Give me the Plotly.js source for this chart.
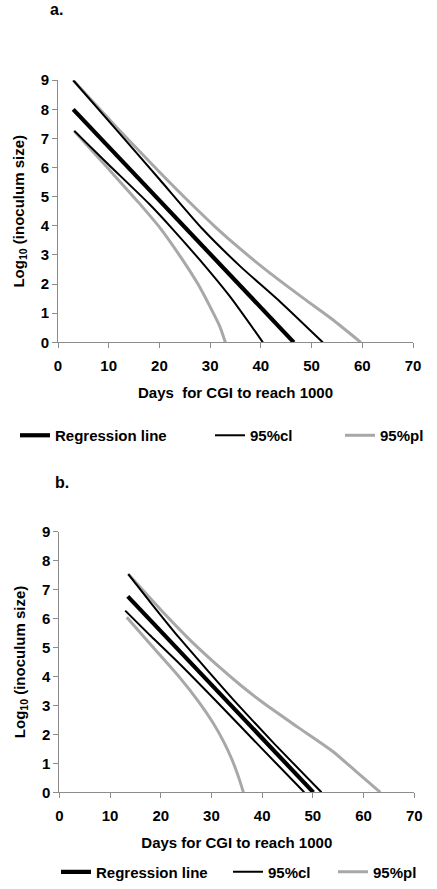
<!DOCTYPE html>
<html><head><meta charset="utf-8">
<script src="https://cdn.plot.ly/plotly-3.0.1.min.js"></script>
<style>html,body{margin:0;padding:0;background:#fff}#chart{width:437px;height:889px}</style>
</head><body><div id="chart"></div>
<script>
const seriesNames = ['Regression line', '95%cl', '95%pl'];
const xTicks = [0, 10, 20, 30, 40, 50, 60, 70];
const yTicks = [0, 1, 2, 3, 4, 5, 6, 7, 8, 9];
const xTitleA = 'Days  for CGI to reach 1000';
const xTitleB = 'Days for CGI to reach 1000';
const yTitle = 'Log<sub>10</sub> (inoculum size)';

// Panel a
const aRegX = [3, 46.5];
const aRegY = [8, 0];
const aUclX = [3, 12, 20, 28.5, 36, 44, 52.2];
const aUclY = [9, 7.2, 5.6, 3.89, 2.6, 1.36, 0];
const aLclX = [3.2, 10, 18, 22.6, 28, 34, 40.4];
const aLclY = [7.26, 6.1, 4.75, 3.89, 2.82, 1.55, 0];
const aUplX = [3, 12, 20, 26, 31.1, 36, 42, 48.5, 54, 59.7];
const aUplY = [9, 7.3, 5.85, 4.8, 3.95, 3.2, 2.35, 1.5, 0.8, 0];
const aLplX = [3.2, 10, 16, 20.3, 24.3, 27.6, 30.2, 31.9, 33];
const aLplY = [7.26, 5.95, 4.78, 3.89, 2.9, 2.0, 1.15, 0.55, 0];

// Panel b
const bRegX = [13.5, 50.1];
const bRegY = [6.76, 0];
const bUclX = [13.6, 18, 23.8, 29, 34.3, 42, 51.7];
const bUclY = [7.53, 6.55, 5.3, 4.25, 3.2, 1.75, 0];
const bLclX = [13.0, 18, 23.8, 31.2, 40, 48.3];
const bLclY = [6.27, 5.4, 4.42, 3.1, 1.5, 0];
const bUplX = [13.6, 20, 26.1, 31.7, 36, 40.2, 47, 54, 58.5, 63.3];
const bUplY = [7.53, 6.3, 5.2, 4.3, 3.66, 3.09, 2.25, 1.4, 0.72, 0];
const bLplX = [13.3, 18, 23.8, 27.5, 30.3, 32.4, 34, 35.3, 36.3];
const bLplY = [6.04, 5.1, 3.95, 3.12, 2.4, 1.75, 1.15, 0.55, 0];

const GRAY = '#a8a8a8';
const styles = {
  reg: {color: '#000000', width: 4.2},
  cl: {color: '#000000', width: 2},
  pl: {color: GRAY, width: 3}
};
const W = 437, H = 889;
const FONT = 'Liberation Sans, Arial, sans-serif';

function tr(x, y, xa, ya, kind, nameIdx, legendId, showlegend) {
  return {
    x: x, y: y, xaxis: xa, yaxis: ya, type: 'scatter', mode: 'lines',
    name: seriesNames[nameIdx], line: Object.assign({shape: 'spline', smoothing: 0.6}, styles[kind]),
    showlegend: showlegend, legend: legendId, hoverinfo: 'skip'
  };
}

const data = [
  tr(aUplX, aUplY, 'x', 'y', 'pl', 2, 'legend3', true),
  tr(aLplX, aLplY, 'x', 'y', 'pl', 2, 'legend3', false),
  tr(aUclX, aUclY, 'x', 'y', 'cl', 1, 'legend2', true),
  tr(aLclX, aLclY, 'x', 'y', 'cl', 1, 'legend2', false),
  tr(aRegX, aRegY, 'x', 'y', 'reg', 0, 'legend', true),
  tr(bUplX, bUplY, 'x2', 'y2', 'pl', 2, 'legend6', true),
  tr(bLplX, bLplY, 'x2', 'y2', 'pl', 2, 'legend6', false),
  tr(bUclX, bUclY, 'x2', 'y2', 'cl', 1, 'legend5', true),
  tr(bLclX, bLclY, 'x2', 'y2', 'cl', 1, 'legend5', false),
  tr(bRegX, bRegY, 'x2', 'y2', 'reg', 0, 'legend4', true)
];

const tickFont = {family: FONT, size: 15, color: '#000', weight: 'bold'};
const titleFont = {family: FONT, size: 15, color: '#000', weight: 'bold'};

function xAxis(domain, anchor, title) {
  return {
    domain: domain, anchor: anchor, range: [0, 70], tickvals: xTicks,
    ticktext: xTicks.map(String), ticks: 'outside', ticklen: 5, tickcolor: '#8c8c8c',
    showline: true, linecolor: '#8c8c8c', linewidth: 1, showgrid: false, zeroline: false,
    tickfont: tickFont, automargin: false, fixedrange: true, ticklabelstandoff: 5,
    title: {text: title, font: titleFont, standoff: 14}
  };
}
function yAxis(domain, anchor) {
  return {
    domain: domain, anchor: anchor, range: [0, 9], tickvals: yTicks,
    ticktext: yTicks.map(String), ticks: 'outside', ticklen: 5, tickcolor: '#8c8c8c',
    showline: true, linecolor: '#8c8c8c', linewidth: 1, showgrid: false, zeroline: false,
    tickfont: tickFont, automargin: false, fixedrange: true,
    title: {text: yTitle, font: titleFont, standoff: 12}
  };
}
function leg(px, py) {
  return {
    x: px / W, y: 1 - py / H, xanchor: 'left', yanchor: 'middle', orientation: 'h',
    bgcolor: 'rgba(0,0,0,0)', borderwidth: 0,
    font: {family: FONT, size: 15, color: '#000', weight: 'bold'}
  };
}

const layout = {
  width: W, height: H, margin: {l: 0, r: 0, t: 0, b: 0},
  paper_bgcolor: '#ffffff', plot_bgcolor: '#ffffff', showlegend: true,
  xaxis: xAxis([58 / W, 413 / W], 'y', xTitleA),
  yaxis: yAxis([1 - 343.5 / H, 1 - 80.5 / H], 'x'),
  xaxis2: xAxis([59.3 / W, 414.3 / W], 'y2', xTitleB),
  yaxis2: yAxis([1 - 795 / H, 1 - 533.3 / H], 'x2'),
  legend: leg(15, 437),
  legend2: leg(210, 437),
  legend3: leg(340, 437),
  legend4: leg(56, 875),
  legend5: leg(228, 875),
  legend6: leg(333, 875),
  annotations: [
    {text: 'a.', x: 48 / W, y: 1 - 10 / H, xref: 'paper', yref: 'paper', xanchor: 'left', yanchor: 'middle',
     showarrow: false, font: {family: FONT, size: 16, color: '#000', weight: 'bold'}},
    {text: 'b.', x: 53 / W, y: 1 - 484 / H, xref: 'paper', yref: 'paper', xanchor: 'left', yanchor: 'middle',
     showarrow: false, font: {family: FONT, size: 16, color: '#000', weight: 'bold'}}
  ]
};

Plotly.newPlot('chart', data, layout, {displayModeBar: false, staticPlot: true});
</script>
</body></html>
